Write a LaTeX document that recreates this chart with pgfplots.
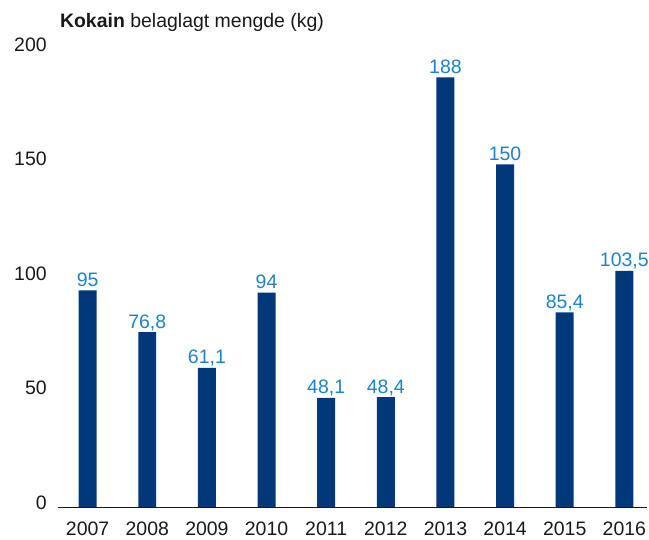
\documentclass[border=0pt]{standalone}
\usepackage{fontspec}
\setmainfont{Liberation Sans}
\usepackage{pgfplots}
\pgfplotsset{compat=1.18}
\definecolor{barblue}{RGB}{0,56,122}
\definecolor{lblblue}{RGB}{30,130,200}
\definecolor{txt}{RGB}{25,25,25}
\begin{document}
\begin{tikzpicture}
\begin{axis}[
  at={(0,0)}, anchor=south west,
  scale only axis,
  width=591bp, height=459.5bp,
  xmin=-0.5, xmax=9.38,
  ymin=0, ymax=200,
  axis line style={draw=none},
  ytick={0,50,100,150,200},
  xtick={0,...,9},
  xticklabels={2007,2008,2009,2010,2011,2012,2013,2014,2015,2016},
  major tick length=0pt,
  /pgf/number format/assume math mode=true,
  tick label style={font=\fontsize{19.6}{22}\selectfont, text=txt, inner sep=0pt},
  yticklabel style={anchor=base east, xshift=-11bp, yshift=-1.2bp},
  xticklabel style={anchor=base, yshift=-27.5bp},
  ybar, bar width=18bp, bar shift=0pt,
  clip=false,
  nodes near coords,
  point meta=explicit symbolic,
  every node near coord/.append style={font=\fontsize{19.6}{22}\selectfont, text=lblblue, anchor=base, inner sep=0pt, yshift=4bp},
]
\addplot[fill=barblue, draw=none] coordinates {
 (0,95) [95]
 (1,76.8) [{76,8}]
 (2,61.1) [{61,1}]
 (3,94) [94]
 (4,48.1) [{48,1}]
 (5,48.4) [{48,4}]
 (6,188) [188]
 (7,150) [150]
 (8,85.4) [{85,4}]
 (9,103.5) [{103,5}]
};
\draw[txt, line width=1bp] (rel axis cs:0,0) -- (rel axis cs:1,0);
\end{axis}
\node[anchor=base west, inner sep=0pt, text=txt, font=\fontsize{19.6}{22}\selectfont] at (2bp,481.5bp) {\textbf{Kokain} belaglagt mengde (kg)};
\pgfresetboundingbox
\path (-58bp,-31.5bp) rectangle (593bp,509.5bp);
\end{tikzpicture}
\end{document}
